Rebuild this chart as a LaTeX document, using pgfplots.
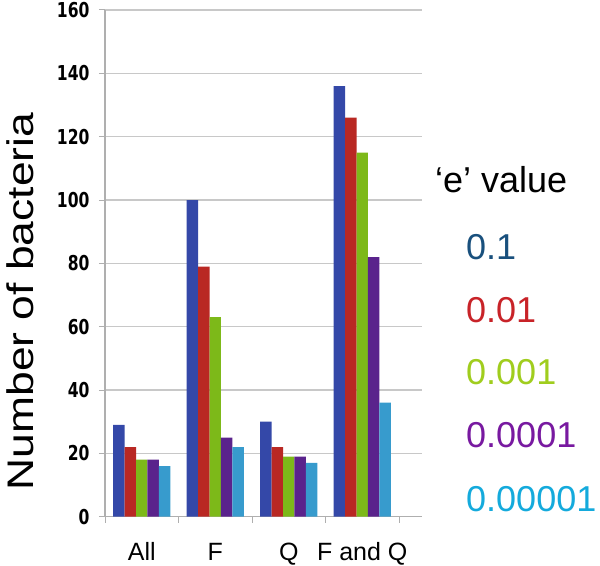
\documentclass[border=0pt]{standalone}
\usepackage{graphicx}
\usepackage{pgfplots}
\pgfplotsset{compat=1.18}
\usepackage{fontspec}
\setmainfont{Liberation Sans}
\newfontfamily\tickfont{DejaVu Sans}
\definecolor{cblue}{RGB}{52,72,168}
\definecolor{cred}{RGB}{185,40,35}
\definecolor{cgreen}{RGB}{125,185,25}
\definecolor{cpurple}{RGB}{90,35,140}
\definecolor{ccyan}{RGB}{55,155,205}
\definecolor{lblue}{RGB}{25,80,125}
\definecolor{lred}{RGB}{200,35,40}
\definecolor{lgreen}{RGB}{160,205,30}
\definecolor{lpurple}{RGB}{120,25,160}
\definecolor{lcyan}{RGB}{20,170,220}
\definecolor{gridgray}{RGB}{200,200,200}
\definecolor{axisgray}{RGB}{175,175,175}
\begin{document}
\begin{tikzpicture}
\path[use as bounding box] (0,0) rectangle (600bp,566bp);
\begin{axis}[
  at={(105bp,49.3bp)}, anchor=south west,
  scale only axis, width=317bp, height=506.7bp,
  xmin=-0.5, xmax=3.813, ymin=0, ymax=160,
  ybar=0pt, bar width=11.4bp,
  axis lines*=left,
  axis line style={draw=axisgray, line width=1.2bp},
  xtick={-0.5,0.5,1.5,2.5,3.5}, xticklabels={,,,,},
  ytick={0,20,...,160},
  tick align=outside, major tick length=6bp,
  tick style={draw=axisgray, line width=1bp},
  ymajorgrids, grid style={draw=gridgray, line width=1.3bp},
  /pgf/number format/assume math mode=true,
  yticklabel={\scalebox{0.82}[1.08]{\tickfont\bfseries\fontsize{19bp}{22bp}\selectfont\pgfmathprintnumber{\tick}}},
  yticklabel style={anchor=east, xshift=-6bp},
  clip=false,
]
\addplot[fill=cblue, draw=none] coordinates {(0,29) (1,100) (2,30) (3,136)};
\addplot[fill=cred, draw=none] coordinates {(0,22) (1,79) (2,22) (3,126)};
\addplot[fill=cgreen, draw=none] coordinates {(0,18) (1,63) (2,19) (3,115)};
\addplot[fill=cpurple, draw=none] coordinates {(0,18) (1,25) (2,19) (3,82)};
\addplot[fill=ccyan, draw=none] coordinates {(0,16) (1,22) (2,17) (3,36)};
\foreach \i/\lab in {0/All,1/F,2/Q,3/F and Q}{
  \edef\temp{\noexpand\node[anchor=base, font=\noexpand\fontsize{25bp}{30bp}\noexpand\selectfont] at (axis cs:\i,0) [yshift=-43.3bp] {\lab};}
  \temp
}
\end{axis}
\node[rotate=90, anchor=base] at (33bp,264.5bp) {\scalebox{1.2}[1]{\fontsize{37bp}{44bp}\selectfont Number of bacteria}};
\begin{scope}[every node/.style={anchor=base west, inner sep=0pt, font=\fontsize{36bp}{40bp}\selectfont}]
\node at (435bp,373bp) {‘e’ value};
\node[text=lblue] at (466bp,306bp) {0.1};
\node[text=lred] at (466bp,243bp) {0.01};
\node[text=lgreen] at (466bp,181bp) {0.001};
\node[text=lpurple] at (466bp,118bp) {0.0001};
\node[text=lcyan] at (466bp,54bp) {0.00001};
\end{scope}
\end{tikzpicture}
\end{document}
